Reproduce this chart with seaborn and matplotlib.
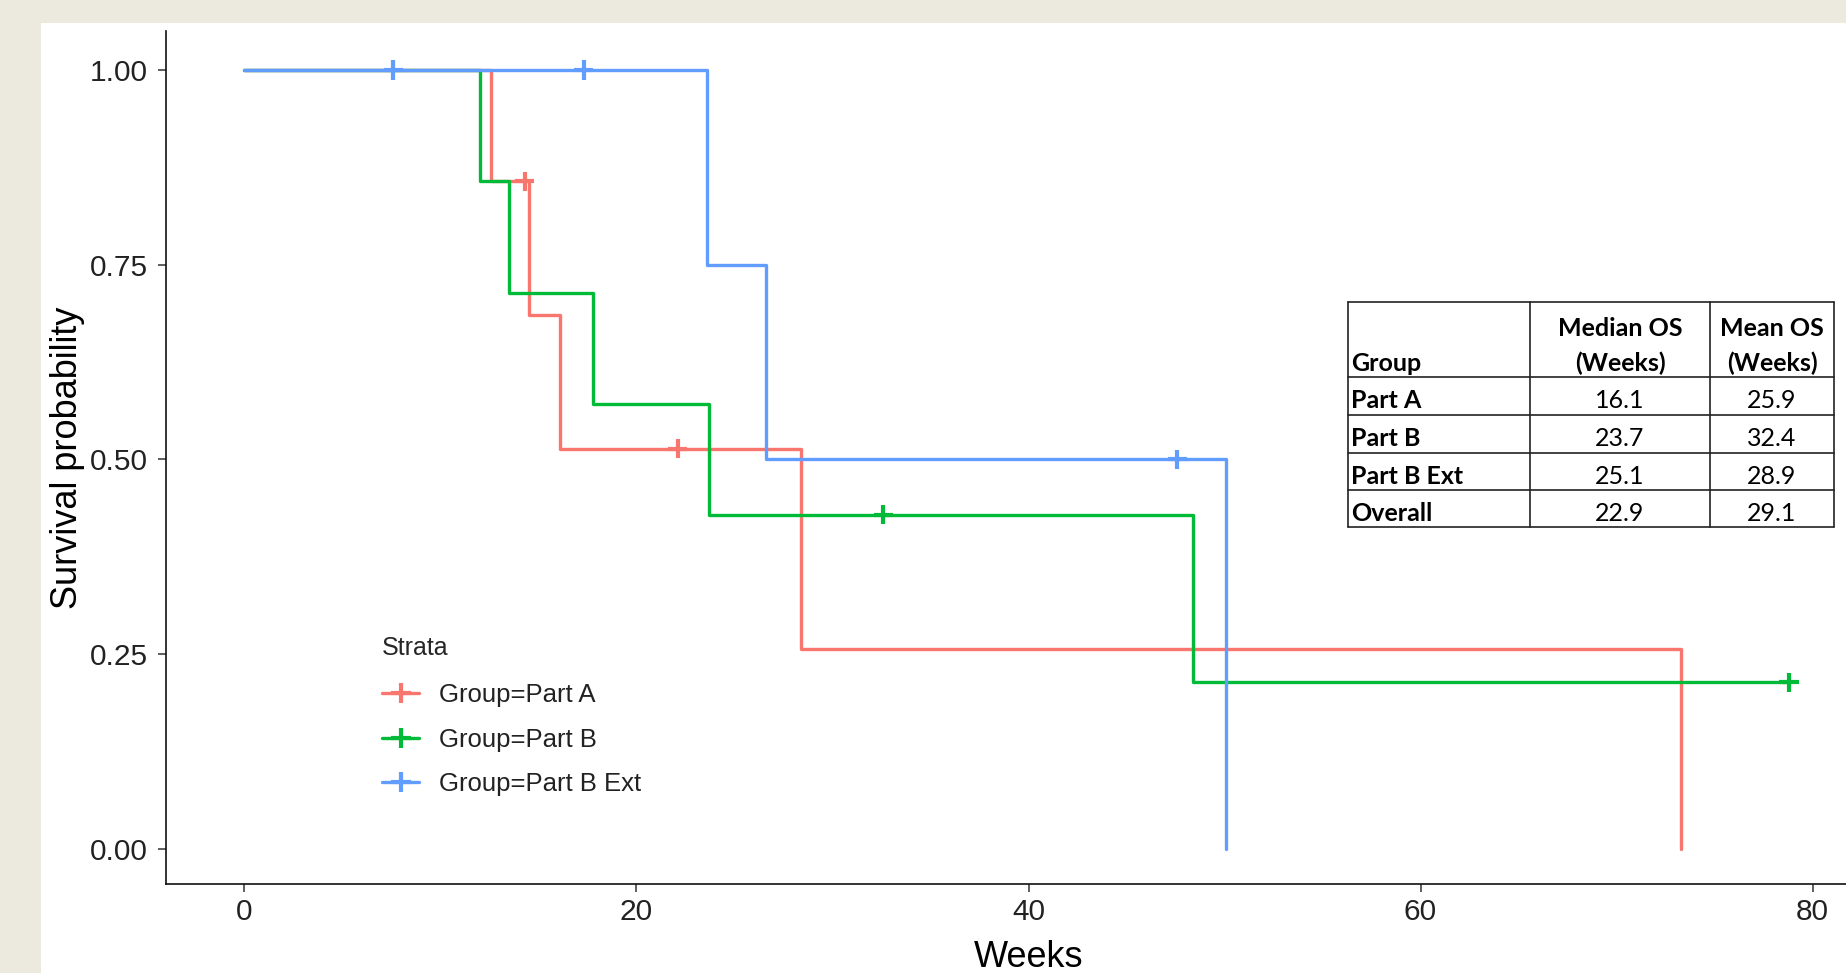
import numpy as np
import pandas as pd
import matplotlib
matplotlib.use('Agg')
import matplotlib.pyplot as plt
import seaborn as sns
from matplotlib.lines import Line2D
from matplotlib.patches import Rectangle


# Kaplan-Meier steps (weeks, survival probability)
strata = ['Group=Part A', 'Group=Part B', 'Group=Part B Ext']
colors = ['#F8766D', '#00BA38', '#619CFF']

part_a_times = [0, 12.6, 14.5, 16.1, 28.4, 73.3]
part_a_surv = [1.0, 0.857, 0.686, 0.514, 0.257, 0.0]
part_a_censor_times = [14.3, 22.1]
part_a_censor_surv = [0.857, 0.514]

part_b_times = [0, 12.0, 13.5, 17.8, 23.7, 48.4, 78.8]
part_b_surv = [1.0, 0.857, 0.714, 0.571, 0.429, 0.214, 0.214]
part_b_censor_times = [32.6, 78.8]
part_b_censor_surv = [0.429, 0.214]

part_b_ext_times = [0, 23.6, 26.6, 50.1]
part_b_ext_surv = [1.0, 0.75, 0.5, 0.0]
part_b_ext_censor_times = [7.6, 17.3, 47.6]
part_b_ext_censor_surv = [1.0, 1.0, 0.5]

# summary table
table_groups = ['Part A', 'Part B', 'Part B Ext', 'Overall']
median_os = [16.1, 23.7, 25.1, 22.9]
mean_os = [25.9, 32.4, 28.9, 29.1]

x_ticks = [0, 20, 40, 60, 80]
y_ticks = [0.00, 0.25, 0.50, 0.75, 1.00]


def build_frames():
    curve_parts = [
        (strata[0], part_a_times, part_a_surv),
        (strata[1], part_b_times, part_b_surv),
        (strata[2], part_b_ext_times, part_b_ext_surv),
    ]
    censor_parts = [
        (strata[0], part_a_censor_times, part_a_censor_surv),
        (strata[1], part_b_censor_times, part_b_censor_surv),
        (strata[2], part_b_ext_censor_times, part_b_ext_censor_surv),
    ]
    curves = pd.concat([pd.DataFrame({'strata': s, 'time': t, 'surv': v})
                        for s, t, v in curve_parts], ignore_index=True)
    censored = pd.concat([pd.DataFrame({'strata': s, 'time': t, 'surv': v})
                          for s, t, v in censor_parts], ignore_index=True)
    return curves, censored


def draw_table(fig):
    W, H = 1846, 973
    x0, x1, x2, x3 = 1348, 1530, 1710, 1834
    rows = [302, 377, 415, 453, 490, 527]
    tax = fig.add_axes([x0 / W, 1 - rows[-1] / H, (x3 - x0) / W, (rows[-1] - rows[0]) / H])
    tax.set_xlim(x0, x3)
    tax.set_ylim(rows[-1], rows[0])
    tax.axis('off')
    lc = '#222222'
    for y in rows:
        tax.plot([x0, x3], [y, y], color=lc, lw=1.2, clip_on=False)
    for x in [x0, x1, x2, x3]:
        tax.plot([x, x], [rows[0], rows[-1]], color=lc, lw=1.2, clip_on=False)

    font = dict(family='Lato', fontsize=18, color='black')
    tax.text(x0 + 3, 371, 'Group', ha='left', va='baseline', fontweight='bold', **font)
    tax.text((x1 + x2) / 2, 336, 'Median OS', ha='center', va='baseline', fontweight='bold', **font)
    tax.text((x1 + x2) / 2, 371, '(Weeks)', ha='center', va='baseline', fontweight='bold', **font)
    tax.text((x2 + x3) / 2, 336, 'Mean OS', ha='center', va='baseline', fontweight='bold', **font)
    tax.text((x2 + x3) / 2, 371, '(Weeks)', ha='center', va='baseline', fontweight='bold', **font)
    for i, (g, med, mean) in enumerate(zip(table_groups, median_os, mean_os)):
        yb = rows[i + 1] + 31
        tax.text(x0 + 3, yb, g, ha='left', va='baseline', fontweight='bold', **font)
        tax.text((x1 + x2) / 2, yb, f'{med:.1f}', ha='center', va='baseline', **font)
        tax.text((x2 + x3) / 2, yb, f'{mean:.1f}', ha='center', va='baseline', **font)


def main():
    sns.set_theme(style='ticks')
    plt.rcParams['font.family'] = ['Liberation Sans', 'DejaVu Sans']

    curves, censored = build_frames()

    fig = plt.figure(figsize=(18.46, 9.73), dpi=100)
    fig.patch.set_facecolor('#ECE9DF')
    fig.add_artist(Rectangle((41 / 1846, 0), 1, 1 - 23 / 973, transform=fig.transFigure,
                             facecolor='white', edgecolor='none', zorder=0))

    ax = fig.add_axes([166 / 1846, 1 - 884 / 973, 1725 / 1846, 853 / 973])
    ax.set_facecolor('white')

    sns.lineplot(data=curves, x='time', y='surv', hue='strata', palette=colors,
                 hue_order=strata, drawstyle='steps-post', estimator=None,
                 linewidth=2.4, legend=False, ax=ax)
    sns.scatterplot(data=censored, x='time', y='surv', hue='strata', palette=colors,
                    hue_order=strata, marker='+', s=190,
                    legend=False, ax=ax, zorder=3)
    for coll in ax.collections:
        coll.set_linewidth(3.0)

    ax.set_xlim(-4, 84)
    ax.set_ylim(-0.045, 1.05)
    ax.set_xticks(x_ticks)
    ax.set_yticks(y_ticks)
    ax.set_yticklabels([f'{v:.2f}' for v in y_ticks])
    ax.tick_params(axis='both', labelsize=21.5, length=6, width=1.1, colors='#333333',
                   labelcolor='#222222')
    ax.tick_params(axis='y', pad=7)
    ax.tick_params(axis='x', pad=4)
    for side in ['top', 'right']:
        ax.spines[side].set_visible(False)
    for side in ['left', 'bottom']:
        ax.spines[side].set_linewidth(1.2)
        ax.spines[side].set_color('#111111')

    ax.set_xlabel('Weeks', fontsize=26, color='black')
    ax.set_ylabel('Survival probability', fontsize=26, color='black')
    ax.xaxis.set_label_coords(0.5, -0.066)
    ax.yaxis.set_label_coords(-0.047, 0.5)

    handles = [Line2D([0], [0], color=c, lw=2.4, marker='+', markersize=14, markeredgewidth=3.0)
               for c in colors]
    leg = ax.legend(handles, strata, title='Strata', loc='upper left',
                    bbox_to_anchor=(382 / 1846, 1 - 636 / 973), bbox_transform=fig.transFigure,
                    frameon=False, fontsize=18.5, title_fontsize=18, borderpad=0,
                    borderaxespad=0, handlelength=1.45, handletextpad=0.75, labelspacing=0.8,
                    alignment='left')
    leg._legend_box.sep = 18.5 * 0.8 + 2
    for t in leg.get_texts():
        t.set_color('#222222')

    draw_table(fig)

    fig.savefig('out.png', dpi=100, facecolor=fig.get_facecolor())


if __name__ == '__main__':
    main()
